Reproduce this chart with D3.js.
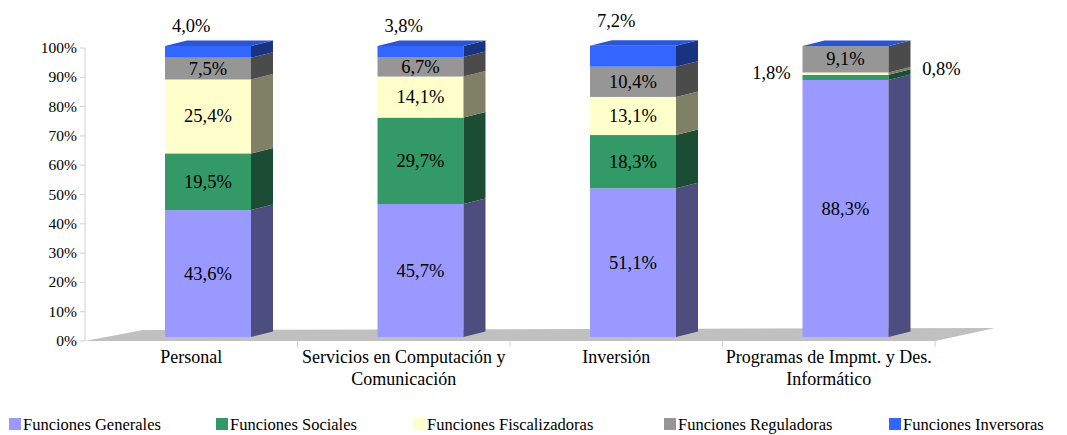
<!DOCTYPE html>
<html>
<head>
<meta charset="utf-8">
<script src="https://d3js.org/d3.v7.min.js"></script>
</head>
<body style="margin:0">
<svg id="chart" width="1067" height="435"></svg>
<script>
// data
var categories = ["Personal", "Servicios en Computación y|Comunicación", "Inversión", "Programas de Impmt. y Des.|Informático"];
var series = ["Funciones Generales", "Funciones Sociales", "Funciones Fiscalizadoras", "Funciones Reguladoras", "Funciones Inversoras"];
var generales = [43.6, 45.7, 51.1, 88.3];
var sociales = [19.5, 29.7, 18.3, 1.8];
var fiscalizadoras = [25.4, 14.1, 13.1, 0.8];
var reguladoras = [7.5, 6.7, 10.4, 9.1];
var inversoras = [4.0, 3.8, 7.2, 0.0];
var yTicks = [0, 10, 20, 30, 40, 50, 60, 70, 80, 90, 100];

var front = ["#9999ff", "#339966", "#ffffcc", "#969696", "#3366ff"];
var side = ["#4d4d80", "#1a4d33", "#808066", "#4b4b4b", "#1a3380"];
var topCol = "#2a55d6";

var svg = d3.select("#chart");
var left = 85, right = 935;
var depthX = 22, depthY = -5.5;

var x = d3.scaleBand().domain(d3.range(categories.length)).range([left, right]);
var yAxisScale = d3.scaleLinear().domain([0, 100]).range([341, 48]);
var yBar = d3.scaleLinear().domain([0, 100]).range([337, 46]);

var fmt = function(v){ return v.toFixed(1).replace(".", ",") + "%"; };

function addText(px, py, str, size, anchor) {
  return svg.append("text").attr("x", px).attr("y", py)
    .attr("font-family", "Liberation Serif")
    .style("font-family", "'Liberation Serif', 'Times New Roman', serif")
    .attr("font-size", size)
    .attr("text-anchor", anchor || "start").attr("fill", "#000")
    .text(str);
}

// floor
svg.append("path")
  .attr("d", "M" + left + ",341 L" + (left + 58) + ",330 L" + (right + 60) + ",328 L" + right + ",341 Z")
  .attr("fill", "#c0c0c0");

// y axis
svg.append("line").attr("x1", left).attr("x2", left)
  .attr("y1", yAxisScale(0)).attr("y2", yAxisScale(100))
  .attr("stroke", "#cfcfcf").attr("stroke-width", 1);
yTicks.forEach(function(t){
  svg.append("line").attr("x1", left - 5).attr("x2", left)
    .attr("y1", yAxisScale(t)).attr("y2", yAxisScale(t))
    .attr("stroke", "#cfcfcf");
  addText(left - 8, yAxisScale(t) + 5, t + "%", 15.5, "end");
});
// category ticks
for (var i = 1; i <= categories.length; i++) {
  var tx = left + i * x.bandwidth();
  svg.append("line").attr("x1", tx).attr("x2", tx).attr("y1", 341).attr("y2", 347)
    .attr("stroke", "#cfcfcf");
}

var stacks = [generales, sociales, fiscalizadoras, reguladoras, inversoras];
var barW = 86, barOff = 80;

categories.forEach(function(cat, ci){
  var x0 = x(ci) + barOff, x1 = x0 + barW;
  var cum = 0;
  stacks.forEach(function(s, si){
    var v = s[ci];
    var yb = yBar(cum), yt = yBar(cum + v);
    cum += v;
    if (v <= 0) return;
    svg.append("rect").attr("x", x0).attr("y", yt).attr("width", barW).attr("height", yb - yt)
      .attr("fill", front[si]);
    svg.append("path")
      .attr("d", "M" + x1 + "," + yb + " L" + (x1 + depthX) + "," + (yb + depthY) +
        " L" + (x1 + depthX) + "," + (yt + depthY) + " L" + x1 + "," + yt + " Z")
      .attr("fill", side[si]);
  });
  var yTop = yBar(cum);
  svg.append("path")
    .attr("d", "M" + x0 + "," + yTop + " L" + (x0 + depthX) + "," + (yTop + depthY) +
      " L" + (x1 + depthX) + "," + (yTop + depthY) + " L" + x1 + "," + yTop + " Z")
    .attr("fill", topCol);

  // labels
  var cx = x0 + barW / 2;
  var c2 = 0;
  stacks.forEach(function(s, si){
    var v = s[ci];
    var yb = yBar(c2), yt = yBar(c2 + v);
    c2 += v;
    if (v <= 0) return;
    var lx = cx, ly = (yb + yt) / 2 + 6;
    if (si == 4) {
      lx = x(ci) + x.bandwidth() / 2;
      ly = yTop - 14 - (yb - yt) * 0.5 + 6;
    } else if (v < 3) {
      // small slices are pulled out beside the bar
      if (si == 1) { lx = x0 - 31; ly = yt + 4; }
      else { lx = x1 + depthX + 31; ly = yt + 3; }
    }
    addText(lx, ly, fmt(v), 18.5, "middle");
  });

  var lines = cat.split("|");
  lines.forEach(function(l, li){
    addText(x(ci) + x.bandwidth() / 2, 363 + li * 22, l, 18, "middle");
  });
});

// legend
var legX = [9, 216, 413, 664, 889];
series.forEach(function(s, i){
  svg.append("rect").attr("x", legX[i]).attr("y", 418).attr("width", 12).attr("height", 12)
    .attr("fill", front[i]);
  addText(legX[i] + 14, 430, s, 16.5);
});
</script>
</body>
</html>
